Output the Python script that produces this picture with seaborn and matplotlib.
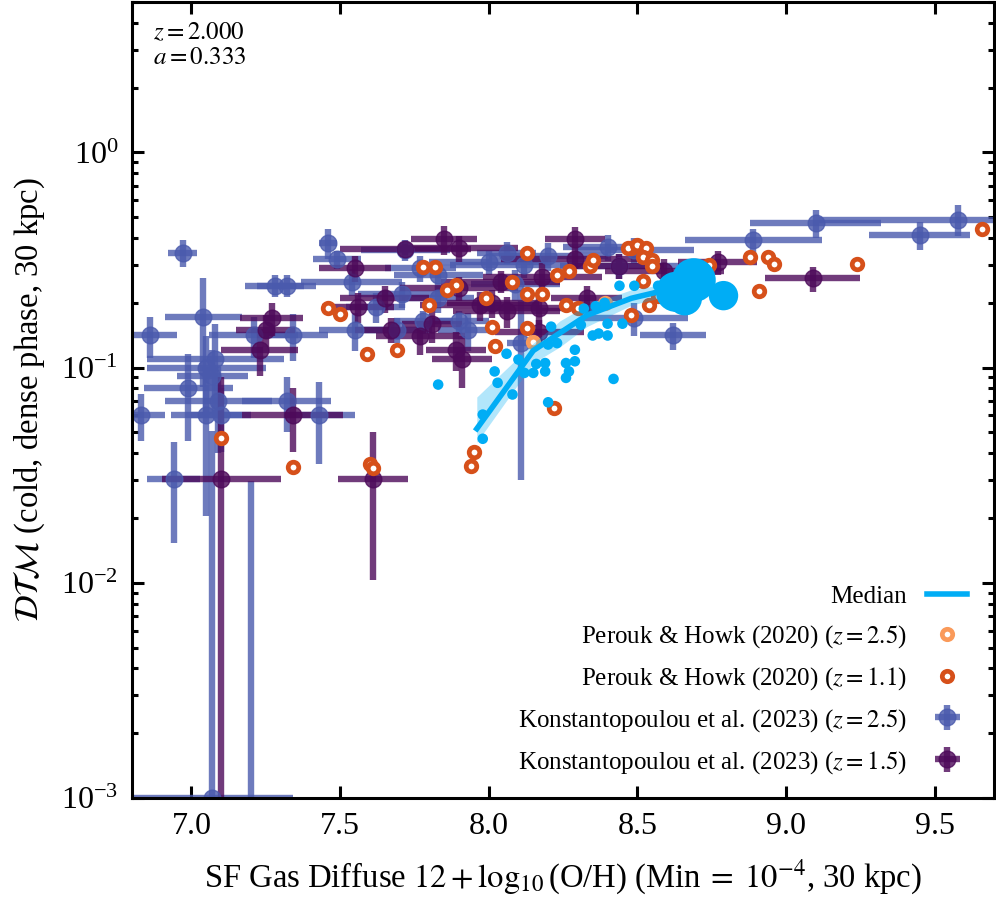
import numpy as np
import pandas as pd
import seaborn as sns
import matplotlib
matplotlib.use("Agg")
import matplotlib.pyplot as plt
from matplotlib.lines import Line2D

# Konstantopoulou et al. (2023), z = 2.5
k25_x = [6.97, 7.46, 7.49, 7.54, 7.28, 7.32, 7.04, 6.86, 7.62, 7.55, 7.21, 7.34,
         7.08, 7.05, 7.07, 6.99, 7.09, 7.32, 6.83, 7.05, 7.10, 7.43, 6.94, 7.07,
         7.20, 9.10, 9.58, 9.45, 8.89, 8.62, 8.49, 8.49, 7.72, 8.06, 8.20, 7.77,
         7.83, 7.71, 7.83, 7.93, 8.09, 8.40, 8.44, 7.90, 7.69, 7.78, 8.11, 8.12, 8.00]
k25_y = [0.342, 0.38, 0.318, 0.251, 0.24, 0.24, 0.171, 0.141, 0.191, 0.15, 0.141, 0.142,
         0.11, 0.10, 0.091, 0.0806, 0.0703, 0.0703, 0.0605, 0.0605, 0.0605, 0.0605, 0.0303, 0.001,
         0.0008, 0.471, 0.487, 0.413, 0.392, 0.141, 0.17, 0.352, 0.352, 0.342, 0.33, 0.29,
         0.27, 0.22, 0.21, 0.15, 0.245, 0.363, 0.297, 0.164, 0.15, 0.164, 0.13, 0.30, 0.31]
k25_xerr = [0.05, 0.03, 0.08, 0.17, 0.1, 0.1, 0.13, 0.09, 0.1, 0.12, 0.15, 0.12,
            0.23, 0.2, 0.12, 0.15, 0.18, 0.15, 0.08, 0.12, 0.1, 0.12, 0.09, 0.27,
            0.05, 0.22, 0.47, 0.17, 0.23, 0.11, 0.18, 0.2, 0.15, 0.1, 0.2, 0.12,
            0.15, 0.15, 0.12, 0.1, 0.15, 0.15, 0.2, 0.1, 0.12, 0.1, 0.05, 0.25, 0.2]
k25_yerr = [0.05, 0.06, 0.03, 0.035, 0.028, 0.028, 0.09, 0.03, 0.03, 0.03, 0.03, 0.035,
            0.05, 0.04, 0.03, 0.035, 0.03, 0.02, 0.015, 0.04, 0.02, 0.025, 0.015, 0.05,
            0.029, 0.07, 0.08, 0.06, 0.05, 0.02, 0.03, 0.05, 0.04, 0.04, 0.05, 0.04,
            0.04, 0.03, 0.03, 0.03, 0.04, 0.05, 0.04, 0.02, 0.02, 0.02, 0.1, 0.04, 0.04]

# Konstantopoulou et al. (2023), z = 1.5
k15_x = [7.55, 7.56, 7.27, 7.25, 7.23, 7.65, 7.34, 7.10, 7.61, 7.85, 7.90, 8.29,
         8.29, 8.18, 8.04, 7.90, 8.01, 8.06, 8.17, 8.33, 7.77, 7.67, 7.81, 7.89,
         7.91, 7.97, 8.17, 8.77, 9.09, 8.44, 8.59, 7.72]
k15_y = [0.29, 0.191, 0.17, 0.15, 0.121, 0.21, 0.0605, 0.0303, 0.0303, 0.394, 0.358, 0.398,
         0.318, 0.265, 0.251, 0.235, 0.2, 0.183, 0.19, 0.21, 0.14, 0.15, 0.16, 0.121,
         0.11, 0.195, 0.147, 0.31, 0.26, 0.297, 0.28, 0.355]
k15_xerr = [0.12, 0.12, 0.105, 0.1, 0.13, 0.15, 0.17, 0.2, 0.117, 0.11, 0.2, 0.1,
            0.25, 0.2, 0.2, 0.2, 0.15, 0.18, 0.2, 0.12, 0.15, 0.12, 0.1, 0.1,
            0.1, 0.2, 0.15, 0.134, 0.16, 0.15, 0.2, 0.22]
k15_yerr = [0.04, 0.03, 0.03, 0.025, 0.03, 0.03, 0.02, 0.06, 0.02, 0.06, 0.05, 0.05,
            0.03, 0.04, 0.03, 0.03, 0.03, 0.03, 0.03, 0.03, 0.025, 0.02, 0.03, 0.025,
            0.03, 0.03, 0.02, 0.04, 0.035, 0.04, 0.04, 0.02]

# Perouk & Howk (2020)
ph11_x = [7.46, 7.50, 7.59, 7.10, 7.34, 7.60, 7.61, 8.13, 7.78, 7.82, 7.89, 7.86,
          7.80, 7.99, 8.01, 8.02, 7.69, 8.08, 8.13, 8.18, 8.23, 8.27, 8.34, 8.35,
          8.13, 8.26, 8.30, 8.22, 8.48, 7.95, 7.94, 8.47, 8.50, 8.53, 8.52, 8.55,
          8.55, 8.52, 8.57, 8.54, 8.48, 8.88, 8.94, 8.96, 8.91, 9.24, 8.74, 9.66]
ph11_y = [0.19, 0.178, 0.116, 0.0473, 0.0347, 0.0356, 0.0343, 0.34, 0.294, 0.294, 0.242, 0.23,
          0.195, 0.21, 0.155, 0.126, 0.121, 0.25, 0.22, 0.22, 0.27, 0.28, 0.297, 0.316,
          0.153, 0.195, 0.19, 0.065, 0.358, 0.0404, 0.0348, 0.358, 0.37, 0.358, 0.327, 0.316,
          0.297, 0.253, 0.215, 0.195, 0.176, 0.325, 0.325, 0.302, 0.227, 0.302, 0.30, 0.439]
ph25_x = [8.39, 8.15]
ph25_y = [0.20, 0.131]

# simulation galaxies
sim_x = [7.83, 7.98, 7.98, 8.03, 8.02, 8.08, 8.06, 8.10, 8.12, 8.15, 8.16, 8.19,
         8.19, 8.20, 8.20, 8.23, 8.26, 8.27, 8.29, 8.29, 8.26, 8.35, 8.37, 8.40,
         8.40, 8.42, 8.21, 8.31, 8.32, 8.36, 8.39, 8.45, 8.49, 8.44, 8.57,
         8.63, 8.69, 8.66, 8.79]
sim_y = [0.0834, 0.0467, 0.0605, 0.085, 0.096, 0.075, 0.116, 0.109, 0.0945, 0.0945, 0.104, 0.105,
         0.096, 0.069, 0.128, 0.13, 0.105, 0.096, 0.107, 0.121, 0.0896, 0.141, 0.144, 0.141,
         0.16, 0.0886, 0.155, 0.158, 0.188, 0.193, 0.2, 0.16, 0.24, 0.24, 0.24,
         0.225, 0.255, 0.21, 0.216]
sim_n = [1] * 35 + [25, 30, 18, 13]

# median and spread
med_x = [7.96, 8.15, 8.24, 8.33, 8.48, 8.60]
med_y = [0.052, 0.12, 0.145, 0.175, 0.21, 0.23]
med_lo = [0.045, 0.105, 0.125, 0.155, 0.195, 0.215]
med_hi = [0.073, 0.13, 0.165, 0.195, 0.23, 0.245]

c_k25 = "#4a5aad"
c_k15 = "#4d0a5a"
c_ph11 = "#d6501a"
c_ph25 = "#fa9a5a"
c_sim = "#00adf5"

plt.rcParams["font.family"] = ["Liberation Serif", "DejaVu Serif"]
plt.rcParams["mathtext.fontset"] = "stix"

fig = plt.figure(figsize=(9.96, 9.0), dpi=100)
ax = fig.add_axes([132 / 996, 102 / 900, 862 / 996, 796 / 900])

ek = ax.errorbar(k25_x, k25_y, xerr=k25_xerr, yerr=k25_yerr, fmt="o", ms=12,
                 color=c_k25, elinewidth=4.6, capsize=0, alpha=0.8, zorder=2,
                 label=r"Konstantopoulou et al. (2023) ($z=2.5$)")
ep = ax.errorbar(k15_x, k15_y, xerr=k15_xerr, yerr=k15_yerr, fmt="o", ms=12,
                 color=c_k15, elinewidth=4.6, capsize=0, alpha=0.8, zorder=2,
                 label=r"Konstantopoulou et al. (2023) ($z=1.5$)")

sns.scatterplot(x=ph25_x, y=ph25_y, ax=ax, marker="o", s=58, facecolor="white",
                edgecolor=c_ph25, linewidth=3.4, zorder=3, legend=False)
sns.scatterplot(x=ph11_x, y=ph11_y, ax=ax, marker="o", s=58, facecolor="white",
                edgecolor=c_ph11, linewidth=3.4, zorder=3, legend=False)

sim = pd.DataFrame({"x": sim_x, "y": sim_y, "n": sim_n})
sns.scatterplot(data=sim, x="x", y="y", size="n", sizes=(58, 1000), size_norm=(1, 30),
                color=c_sim, linewidth=0, ax=ax, zorder=4, legend=False)

ax.fill_between(med_x, med_lo, med_hi, color=c_sim, alpha=0.3, lw=0, zorder=4)
sns.lineplot(x=med_x, y=med_y, ax=ax, color=c_sim, lw=4, zorder=5, sort=False)

ax.set_yscale("log")
ax.set_xlim(6.8, 9.7)
ax.set_ylim(1e-3, 5)
ax.set_xticks([7.0, 7.5, 8.0, 8.5, 9.0, 9.5])
ax.tick_params(which="both", direction="in", top=True, right=True, labelsize=23, width=2.2)
ax.tick_params(which="major", length=8.6, pad=10)
ax.tick_params(which="minor", length=4.5)
for s in ax.spines.values():
    s.set_linewidth(2.2)

ax.set_xlabel(r"SF Gas Diffuse $12+\log_{10}$(O/H) (Min$\;=\;10^{-4}$, 30 kpc)",
              fontsize=23.5, labelpad=12)
ax.set_ylabel(r"$\mathcal{DTM}$ (cold, dense phase, 30 kpc)", fontsize=23.5, labelpad=10)
ax.text(0.024, 0.975, "$z=2.000$\n$a=0.333$", transform=ax.transAxes, va="top",
        ha="left", fontsize=18, linespacing=1.15)

handles = [
    Line2D([], [], color=c_sim, lw=4),
    Line2D([], [], ls="", marker="o", ms=7.5, mfc="white", mec=c_ph25, mew=3.4),
    Line2D([], [], ls="", marker="o", ms=7.5, mfc="white", mec=c_ph11, mew=3.4),
    ek, ep,
]
labels = ["Median", r"Perouk & Howk (2020) ($z=2.5$)", r"Perouk & Howk (2020) ($z=1.1$)",
          r"Konstantopoulou et al. (2023) ($z=2.5$)", r"Konstantopoulou et al. (2023) ($z=1.5$)"]
ax.legend(handles, labels, loc="lower right", frameon=False, markerfirst=False,
          fontsize=18, handlelength=1.6, labelspacing=0.6, bbox_to_anchor=(0.995, 0.0))

fig.savefig("out.png", dpi=100)
